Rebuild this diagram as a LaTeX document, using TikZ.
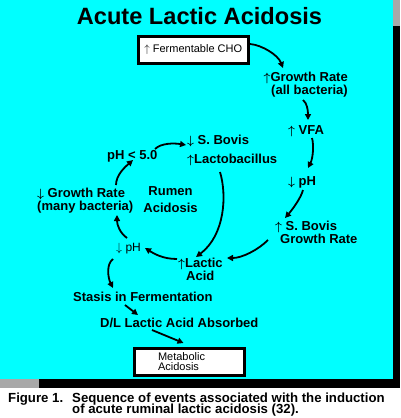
\documentclass[tikz,border=0pt]{standalone}
\usepackage{fontspec}
\setmainfont{Liberation Sans}
\usetikzlibrary{arrows.meta}
\definecolor{bgcyan}{RGB}{0,255,255}
\definecolor{bargray}{RGB}{168,168,168}
\newcommand\myup{\ensuremath{\uparrow}}
\newcommand\mydown{\ensuremath{\downarrow}}
\newcommand\captfont{\fontsize{13.2}{11.7}\selectfont\bfseries\lineskiplimit=-20pt\relax\lineskip=0pt\relax}
\begin{document}
\begin{tikzpicture}[x=1pt,y=-1pt,
  lbl/.style={anchor=base west, inner sep=0pt, font=\fontsize{13}{15}\selectfont\bfseries\boldmath},
  reg/.style={anchor=base west, inner sep=0pt, font=\fontsize{12}{14}\selectfont},
  captext/.style={inner sep=0pt, font=\captfont},
  arr/.style={line width=1.8pt, -{Triangle[length=6pt,width=6pt]}},
  boxn/.style={draw, line width=3pt, fill=white}]
\fill[white] (0,0) rectangle (400,418);
\useasboundingbox (0,0) rectangle (400,418);
\fill[bgcyan] (0,0) rectangle (393,379);
\fill[bargray] (393,0) rectangle (400,26);
\fill[black] (393,26) rectangle (400,388);
\fill[bargray] (0,379) rectangle (39,388);
\fill[black] (39,379) rectangle (400,388);

\node[anchor=base, inner sep=0pt, font=\fontsize{23.6}{26}\selectfont\bfseries] (title) at (199.5,24.5) {Acute Lactic Acidosis};

\node[boxn, minimum width=110.5pt, minimum height=27pt, inner sep=0pt, font=\fontsize{11}{12}\selectfont] (cho) at (193.25,50) {\myup\ Fermentable CHO};

\node[lbl, anchor=base east] (gr1) at (348,81.5) {\myup Growth Rate};
\node[lbl, anchor=base east] (gr2) at (348,94) {(all bacteria)};
\node[lbl] (vfa) at (288,134) {\myup\ VFA};
\node[lbl] (ph1) at (288,185) {\mydown\ pH};
\node[lbl] (sb1) at (275,230) {\myup\ S. Bovis};
\node[lbl] (sb2) at (280,243) {Growth Rate};
\node[lbl] (la1) at (178,267) {\myup Lactic};
\node[lbl] (la2) at (186,280) {Acid};
\node[lbl] (sbd) at (187,144) {\mydown\ S. Bovis};
\node[lbl] (lacto) at (187,163) {\myup Lactobacillus};
\node[lbl] (ph5) at (107,159) {pH < 5.0};
\node[lbl] (grm1) at (37,197) {\mydown\ Growth Rate};
\node[lbl] (grm2) at (37,210) {(many bacteria)};
\node[reg] (ph2) at (116,251) {\mydown\ pH};
\node[lbl, anchor=base] (rum1) at (170.5,195) {Rumen};
\node[lbl, anchor=base] (rum2) at (170.5,212) {Acidosis};
\node[lbl] (stasis) at (73,301) {Stasis in Fermentation};
\node[lbl] (dl) at (100,327) {D/L Lactic Acid Absorbed};
\node[boxn, minimum height=27pt, text width=63pt, inner xsep=23.5pt, inner ysep=0pt, align=left, font=\fontsize{11}{10}\selectfont] (meta) at (189.5,362) {Metabolic\\Acidosis};

\node[captext, anchor=base west] (fig) at (8,402) {Figure 1.};
\node[captext, anchor=north west, align=left] (capa) at (72,392.4) {Sequence of events associated with the induction\\of acute ruminal lactic acidosis (32).};

\draw[arr] ([shift={(0,-6)}]cho.east) .. controls +(12,1) and +(-5,-13) .. ([shift={(-65,-13.5)}]gr1.base east);
\draw[arr] ([shift={(-45,6)}]gr2.base east) .. controls +(4,3) and +(0,-10) .. ([shift={(20,-14)}]vfa.base west);
\draw[arr] ([shift={(24,4)}]vfa.base west) .. controls +(2,7) and +(5,-10) .. ([shift={(20,-17)}]ph1.base west);
\draw[arr] ([shift={(15,5)}]ph1.base west) .. controls +(-2,8) and +(7,-8) .. ([shift={(10,-12)}]sb1.base west);
\draw[arr] ([shift={(-12,-3)}]sb2.base west) .. controls +(-10,10) and +(15,0) .. ([shift={(49,-9)}]la1.base west);
\draw[arr] ([shift={(33,9)}]lacto.base west) .. controls +(7,23) and +(29,-22) .. ([shift={(18,-10)}]la1.base west);
\draw[arr] ([shift={(-1,-8)}]la1.base west) .. controls +(-15,0) and +(8,5) .. ([shift={(29,-3)}]ph2.base west);
\draw[arr] ([shift={(11,-13)}]ph2.base west) .. controls +(-7,-5) and +(0,10) .. ([shift={(80,5)}]grm2.base west);
\draw[arr] ([shift={(79,-12)}]grm1.base west) .. controls +(0,-10) and +(-8,7) .. ([shift={(26,1)}]ph5.base west);
\draw[arr] ([shift={(48,-10)}]ph5.base west) .. controls +(6,-6) and +(-12,-2) .. ([shift={(-1,1)}]sbd.base west);
\draw[arr] ([shift={(-3,8)}]ph2.base west) .. controls +(-7,5) and +(-5,-10) .. ([shift={(40,-13)}]stasis.base west);
\draw[arr] ([shift={(52,4)}]stasis.base west) -- ([shift={(38,-12)}]dl.base west);
\draw[arr] ([shift={(52,3)}]dl.base west) -- ([shift={(-6,-4)}]meta.north);
\end{tikzpicture}
\end{document}
